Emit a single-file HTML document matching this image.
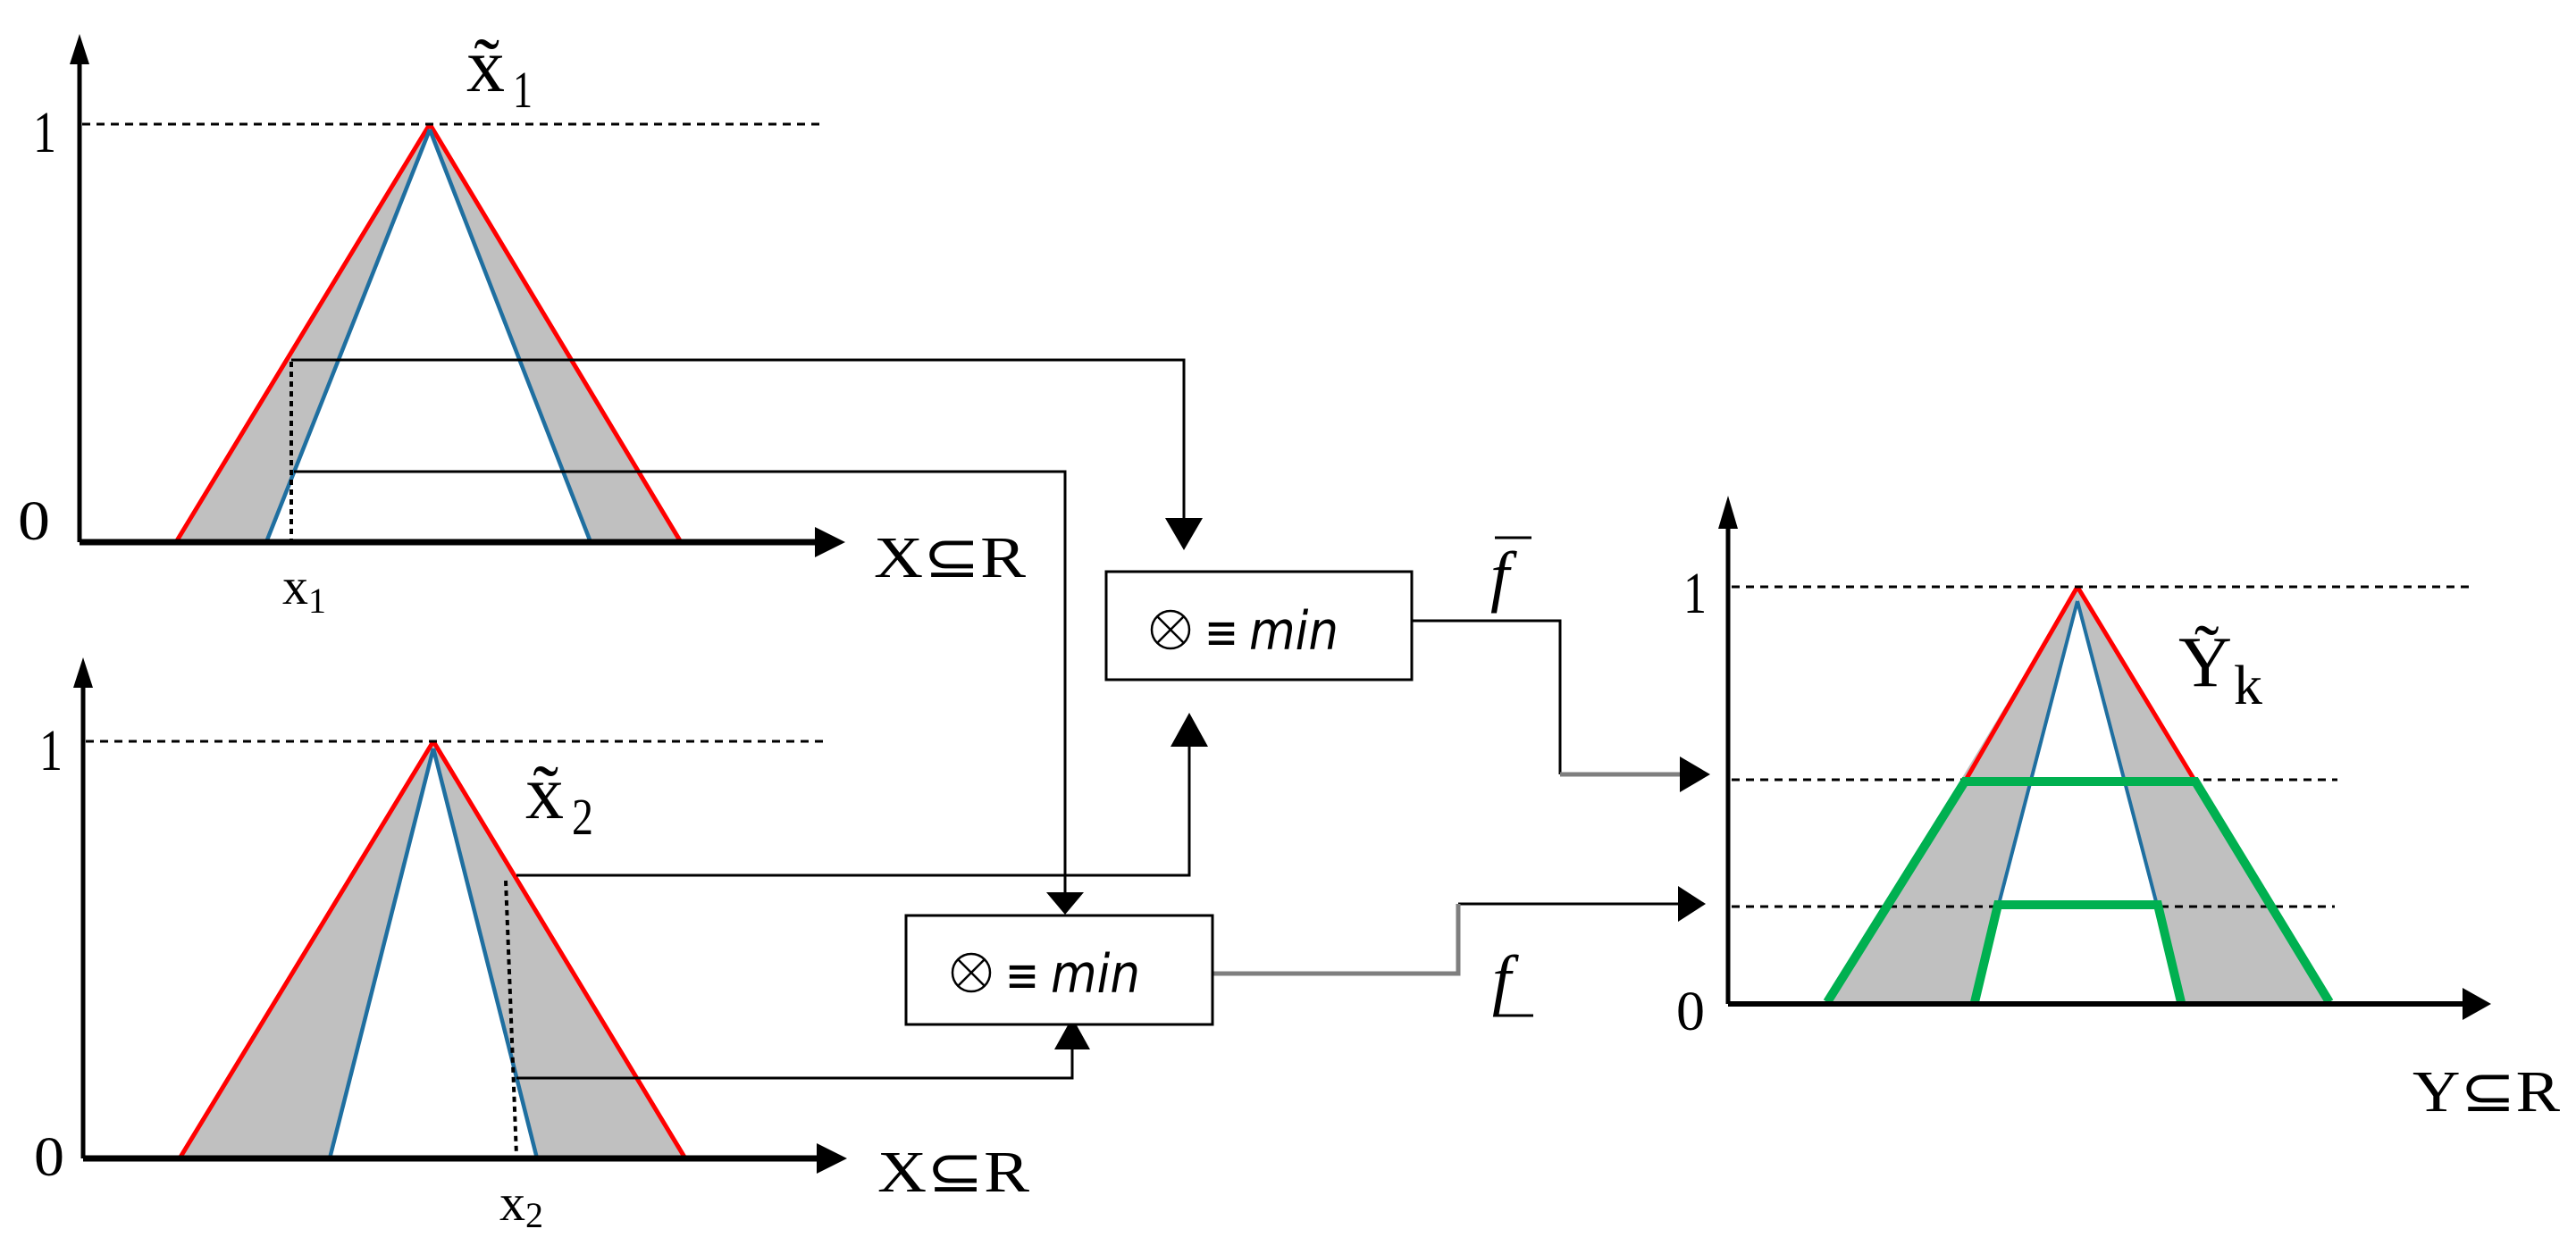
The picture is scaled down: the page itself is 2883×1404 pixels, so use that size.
<!DOCTYPE html>
<html><head><meta charset="utf-8"><style>html,body{margin:0;padding:0;background:#fff}svg{display:block}</style></head>
<body>
<svg width="2883" height="1404" viewBox="0 0 2883 1404" xmlns="http://www.w3.org/2000/svg" font-family="Liberation Serif, serif">
<!-- Top chart -->
<polygon points="197,607 481,139 762,607 661,607 481,145 298,607" fill="#c0c0c0"/>
<line x1="197" y1="607" x2="481" y2="139" stroke="#ff0000" stroke-width="5"/>
<line x1="481" y1="139" x2="762" y2="607" stroke="#ff0000" stroke-width="5"/>
<line x1="298" y1="607" x2="481" y2="145" stroke="#1f6fa0" stroke-width="4.5"/>
<line x1="481" y1="145" x2="661" y2="607" stroke="#1f6fa0" stroke-width="4.5"/>
<line x1="92" y1="139" x2="923" y2="139" stroke="#000" stroke-width="3" stroke-dasharray="9,7"/>
<line x1="89" y1="607" x2="89" y2="70" stroke="#000" stroke-width="5"/>
<polygon points="78,72 100,72 89,38" fill="#000"/>
<line x1="89" y1="607" x2="915" y2="607" stroke="#000" stroke-width="7"/>
<polygon points="912,590 912,624 946,607" fill="#000"/>
<line x1="326" y1="405" x2="326" y2="605" stroke="#000" stroke-width="4" stroke-dasharray="6,5"/>
<text x="37" y="170" font-size="66" textLength="26" lengthAdjust="spacingAndGlyphs">1</text>
<text x="20" y="604" font-size="62" textLength="36" lengthAdjust="spacingAndGlyphs">0</text>
<text x="522" y="102" font-size="86">x̃</text>
<text x="574" y="120" font-size="58" textLength="22" lengthAdjust="spacingAndGlyphs">1</text>
<text x="316" y="676" font-size="58">x</text>
<text x="345" y="686" font-size="40">1</text>
<text x="978" y="646" font-size="66" textLength="170" lengthAdjust="spacingAndGlyphs">X⊆R</text>

<!-- Bottom chart -->
<polygon points="201,1297 485,830 767,1297 601,1297 485,838 369,1297" fill="#c0c0c0"/>
<line x1="201" y1="1297" x2="485" y2="830" stroke="#ff0000" stroke-width="5"/>
<line x1="485" y1="830" x2="767" y2="1297" stroke="#ff0000" stroke-width="5"/>
<line x1="369" y1="1297" x2="485" y2="838" stroke="#1f6fa0" stroke-width="4.5"/>
<line x1="485" y1="838" x2="601" y2="1297" stroke="#1f6fa0" stroke-width="4.5"/>
<line x1="96" y1="830" x2="928" y2="830" stroke="#000" stroke-width="3" stroke-dasharray="9,7"/>
<line x1="93" y1="1297" x2="93" y2="770" stroke="#000" stroke-width="5"/>
<polygon points="82,770 104,770 93,736" fill="#000"/>
<line x1="93" y1="1297" x2="915" y2="1297" stroke="#000" stroke-width="7"/>
<polygon points="914,1280 914,1314 948,1297" fill="#000"/>
<line x1="566" y1="986" x2="578" y2="1294" stroke="#000" stroke-width="4" stroke-dasharray="6,5"/>
<text x="44" y="862" font-size="66" textLength="26" lengthAdjust="spacingAndGlyphs">1</text>
<text x="38" y="1316" font-size="62" textLength="34" lengthAdjust="spacingAndGlyphs">0</text>
<text x="588" y="916" font-size="86">x̃</text>
<text x="640" y="934" font-size="58" textLength="24" lengthAdjust="spacingAndGlyphs">2</text>
<text x="559" y="1366" font-size="58">x</text>
<text x="588" y="1374" font-size="40">2</text>
<text x="982" y="1334" font-size="66" textLength="170" lengthAdjust="spacingAndGlyphs">X⊆R</text>

<!-- Connectors -->
<g stroke="#000" stroke-width="3" fill="none">
<polyline points="326,403 1325,403 1325,582"/>
<polyline points="329,528 1192,528 1192,1000"/>
<polyline points="578,980 1331,980 1331,834"/>
<polyline points="578,1207 1200,1207 1200,1173"/>
<polyline points="1580,695 1746,695 1746,867"/>
<polyline points="1632,1012 1880,1012"/>
</g>
<g stroke="#7f7f7f" stroke-width="5" fill="none">
<polyline points="1746,867 1882,867"/>
<polyline points="1357,1090 1632,1090 1632,1012"/>
</g>
<polygon points="1304,580 1346,580 1325,616" fill="#000"/>
<polygon points="1171,999 1213,999 1192,1024" fill="#000"/>
<polygon points="1310,836 1352,836 1331,798" fill="#000"/>
<polygon points="1180,1175 1220,1175 1200,1139" fill="#000"/>
<polygon points="1880,847 1880,887 1914,867" fill="#000"/>
<polygon points="1878,992 1878,1032 1909,1012" fill="#000"/>

<!-- Boxes -->
<rect x="1238" y="640" width="342" height="121" fill="#fff" stroke="#000" stroke-width="3"/>
<circle cx="1310" cy="705" r="21" fill="none" stroke="#000" stroke-width="2.5"/>
<line x1="1295" y1="690" x2="1325" y2="720" stroke="#000" stroke-width="2.5"/>
<line x1="1325" y1="690" x2="1295" y2="720" stroke="#000" stroke-width="2.5"/>
<text x="1348" y="727" font-family="DejaVu Sans, sans-serif" font-size="56" textLength="38" lengthAdjust="spacingAndGlyphs">≡</text>
<text x="1398" y="727" font-family="DejaVu Sans, sans-serif" font-size="60" font-style="italic" textLength="100" lengthAdjust="spacingAndGlyphs">min</text>
<rect x="1014" y="1025" width="343" height="122" fill="#fff" stroke="#000" stroke-width="3"/>
<circle cx="1087" cy="1089" r="21" fill="none" stroke="#000" stroke-width="2.5"/>
<line x1="1072" y1="1074" x2="1102" y2="1104" stroke="#000" stroke-width="2.5"/>
<line x1="1102" y1="1074" x2="1072" y2="1104" stroke="#000" stroke-width="2.5"/>
<text x="1125" y="1111" font-family="DejaVu Sans, sans-serif" font-size="56" textLength="38" lengthAdjust="spacingAndGlyphs">≡</text>
<text x="1176" y="1111" font-family="DejaVu Sans, sans-serif" font-size="60" font-style="italic" textLength="100" lengthAdjust="spacingAndGlyphs">min</text>

<!-- f labels -->
<line x1="1673" y1="602" x2="1714" y2="602" stroke="#000" stroke-width="3"/>
<text x="1668" y="670" font-size="76" font-style="italic">f</text>
<line x1="1675" y1="1137" x2="1716" y2="1137" stroke="#000" stroke-width="3"/>
<text x="1670" y="1122" font-size="76" font-style="italic">f</text>

<!-- Right chart -->
<polygon points="2043,1124 2325,657 2608,1124 2443,1124 2325,673 2208,1124" fill="#c0c0c0"/>
<line x1="2199" y1="875" x2="2325" y2="657" stroke="#ff0000" stroke-width="5"/>
<line x1="2325" y1="657" x2="2457" y2="875" stroke="#ff0000" stroke-width="5"/>
<line x1="2208" y1="1124" x2="2325" y2="673" stroke="#1f6fa0" stroke-width="4"/>
<line x1="2325" y1="673" x2="2443" y2="1124" stroke="#1f6fa0" stroke-width="4"/>
<g stroke="#000" stroke-width="3" stroke-dasharray="9,7">
<line x1="1938" y1="657" x2="2769" y2="657"/>
<line x1="1938" y1="873" x2="2616" y2="873"/>
<line x1="1938" y1="1015" x2="2613" y2="1015"/>
</g>
<g stroke="#00b050" stroke-width="10" fill="none">
<polyline points="2045,1122 2199,875 2457,875 2607,1122"/>
<polyline points="2210,1122 2236,1013 2415,1013 2441,1122"/>
</g>
<line x1="1934" y1="1124" x2="1934" y2="590" stroke="#000" stroke-width="5"/>
<polygon points="1923,592 1945,592 1934,555" fill="#000"/>
<line x1="1934" y1="1124" x2="2760" y2="1124" stroke="#000" stroke-width="6"/>
<polygon points="2756,1106 2756,1142 2788,1124" fill="#000"/>
<text x="1884" y="686" font-size="66" textLength="26" lengthAdjust="spacingAndGlyphs">1</text>
<text x="1876" y="1153" font-size="62" textLength="32" lengthAdjust="spacingAndGlyphs">0</text>
<text x="2438" y="768" font-size="80" textLength="60" lengthAdjust="spacingAndGlyphs">Ỹ</text>
<text x="2500" y="788" font-size="62" textLength="32" lengthAdjust="spacingAndGlyphs">k</text>
<text x="2700" y="1244" font-size="66" textLength="165" lengthAdjust="spacingAndGlyphs">Y⊆R</text>
</svg>
</body></html>
